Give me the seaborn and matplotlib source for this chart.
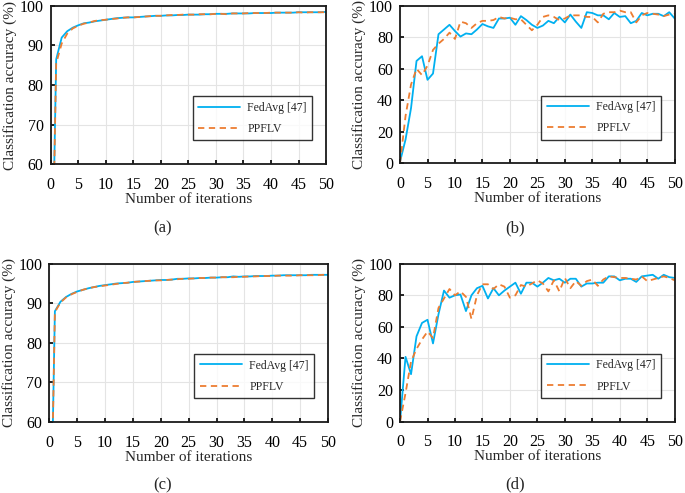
import numpy as np
import pandas as pd
import seaborn as sns
import matplotlib as mpl
import matplotlib.pyplot as plt

iterations = list(range(51))

# (a)
fedavg_a = [10, 86.5, 92.0, 93.6, 94.5, 95.1, 95.6, 95.8, 96.1, 96.3, 96.5, 96.7, 96.9, 97.0, 97.1, 97.1,
            97.2, 97.3, 97.4, 97.5, 97.5, 97.6, 97.6, 97.7, 97.7, 97.8, 97.8, 97.8, 97.9, 97.9, 98.0,
            98.0, 98.0, 98.1, 98.1, 98.1, 98.1, 98.2, 98.2, 98.2, 98.2, 98.3, 98.3, 98.3, 98.3, 98.4,
            98.4, 98.4, 98.4, 98.4, 98.5]
ppflv_a = [10, 85.5, 90.5, 93.0, 94.3, 95.0, 95.5, 95.8, 96.2, 96.4, 96.5, 96.7, 96.8, 97.0, 97.1, 97.1,
           97.2, 97.3, 97.4, 97.5, 97.5, 97.6, 97.7, 97.7, 97.8, 97.8, 97.8, 97.9, 97.9, 97.9, 98.0,
           98.0, 97.9, 98.1, 98.1, 98.1, 98.2, 98.2, 98.2, 98.2, 98.3, 98.3, 98.3, 98.3, 98.3, 98.4,
           98.3, 98.4, 98.4, 98.4, 98.4]

# (b)
fedavg_b = [1, 15, 35, 65, 68, 53, 57, 82, 85, 88, 84, 80.5, 82.5, 82, 85, 88.5, 87, 86, 92, 92,
            92.5, 88, 93.5, 91, 88, 86, 87.5, 90.5, 89, 93, 89.5, 94.5, 90, 86, 96, 95.5, 94, 94,
            91.5, 95.5, 93, 93.5, 89, 90.5, 95.5, 94, 95, 95, 93.5, 96, 92]
ppflv_b = [0, 30, 50, 60, 56, 62, 72, 76, 79, 83, 79, 90, 89, 86, 89, 90.5, 90.5, 91, 93, 92,
           92.5, 91.5, 91.5, 88, 84.5, 88, 93, 94, 93, 91, 92, 94, 94, 94, 93, 93, 89.5, 95, 96,
           96, 97, 96, 96, 89.5, 94, 95.5, 95, 94.5, 93.5, 94.5, 95]

# (c)
fedavg_c = [10, 88.0, 90.4, 91.6, 92.4, 93.0, 93.4, 93.8, 94.1, 94.4, 94.6, 94.8, 95.0, 95.1, 95.2,
            95.4, 95.5, 95.6, 95.7, 95.8, 95.9, 95.9, 96.0, 96.2, 96.2, 96.3, 96.3, 96.4, 96.4, 96.5,
            96.5, 96.6, 96.6, 96.8, 96.7, 96.8, 96.8, 96.9, 96.9, 96.9, 97.0, 97.0, 97.1, 97.1, 97.1,
            97.1, 97.1, 97.2, 97.2, 97.2, 97.2]
ppflv_c = [10, 87.8, 90.2, 91.5, 92.3, 92.9, 93.4, 93.8, 94.1, 94.3, 94.5, 94.7, 94.9, 95.1, 95.2,
           95.4, 95.5, 95.6, 95.7, 95.8, 95.8, 95.9, 96.0, 96.1, 96.2, 96.2, 96.3, 96.4, 96.4, 96.5,
           96.5, 96.6, 96.6, 96.6, 96.7, 96.7, 96.8, 96.8, 96.9, 96.9, 96.9, 97.0, 97.0, 97.0, 97.0,
           97.1, 97.1, 97.1, 97.1, 97.2, 97.2]

# (d)
fedavg_d = [0, 41, 30, 54, 62.5, 64.5, 49.5, 68, 83, 78.5, 80, 80.5, 70, 80, 84.5, 86, 78, 84.5,
            80, 83, 85.5, 88, 81, 88, 88, 85.5, 88, 91, 89.5, 90.5, 88, 90.5, 90.5, 85.5, 87.5,
            87.5, 88, 88, 92, 92, 89.5, 90.5, 90.5, 88.5, 92, 92.5, 93, 90.5, 93, 91.5, 91]
ppflv_d = [0, 18, 38, 46, 52, 57, 53, 72, 78, 84, 80, 82.5, 79, 65, 80, 87, 87, 84, 87, 85.5,
           78.5, 80, 86.5, 85.5, 87.5, 89.5, 87.5, 82.5, 89.5, 82.5, 91, 84.5, 89, 86, 89, 90, 86,
           90, 92, 91.5, 91, 91, 90.5, 90, 92, 89, 90, 91, 92, 91, 89.5]

panels = ['(a)', '(b)', '(c)', '(d)']
fedavg_series = [fedavg_a, fedavg_b, fedavg_c, fedavg_d]
ppflv_series = [ppflv_a, ppflv_b, ppflv_c, ppflv_d]
y_limits = [(60, 100), (0, 100), (60, 100), (0, 100)]
y_steps = [10, 20, 10, 20]
series_names = ['FedAvg [47]', 'PPFLV']

blue = '#00B0F0'
orange = '#ED7D31'


def main():
    sns.set_theme(style='white')
    mpl.rcParams['font.family'] = ['Liberation Serif', 'DejaVu Serif']
    mpl.rcParams['axes.unicode_minus'] = False

    fig = plt.figure(figsize=(6.85, 4.93), dpi=100)
    # [left, bottom, width, height] for a, b, c, d
    boxes = [[0.074, 0.667, 0.402, 0.321],
             [0.584, 0.669, 0.401, 0.319],
             [0.072, 0.144, 0.407, 0.321],
             [0.584, 0.145, 0.401, 0.320]]
    label_pos = [(163, 228), (515, 228), (163, 485), (515, 484)]

    for i in range(4):
        ax = fig.add_axes(boxes[i])
        df = pd.DataFrame({'iter': iterations, 'FedAvg': fedavg_series[i], 'PPFLV': ppflv_series[i]})
        sns.lineplot(data=df, x='iter', y='FedAvg', ax=ax, color=blue, linewidth=1.3,
                     label=series_names[0])
        sns.lineplot(data=df, x='iter', y='PPFLV', ax=ax, color=orange, linewidth=1.3,
                     linestyle=(0, (3.5, 2.5)), label=series_names[1])

        ax.set_xlim(0, 50)
        ax.set_ylim(*y_limits[i])
        ax.set_xticks(range(0, 51, 5))
        ax.set_yticks(range(y_limits[i][0], y_limits[i][1] + 1, y_steps[i]))
        ax.grid(True, color='#e4e4e4', linewidth=0.8)
        ax.set_axisbelow(True)
        ax.tick_params(direction='in', length=3, width=1.2, labelsize=11.5, colors='black',
                       left=True, bottom=True)
        ax.tick_params(axis='x', pad=9)
        ax.tick_params(axis='y', pad=5)
        for spine in ax.spines.values():
            spine.set_color('#1a1a1a')
            spine.set_linewidth(1.3)
        ax.set_xlabel('Number of iterations', fontsize=11, labelpad=0)
        ax.set_ylabel('Classification accuracy (%)', fontsize=11, labelpad=2)

        leg = ax.legend(loc='lower right', bbox_to_anchor=(0.95, 0.15), borderaxespad=0,
                        fontsize=8.5, handlelength=3.6, labelspacing=0.8, frameon=True,
                        fancybox=False, borderpad=0.45, handletextpad=0.6)
        leg.get_frame().set_edgecolor('black')
        leg.get_frame().set_linewidth(1.0)

        fig.text(label_pos[i][0] / 685, 1 - label_pos[i][1] / 493, panels[i],
                 ha='center', va='center', fontsize=12)

    fig.savefig('out.png', dpi=100)


if __name__ == "__main__":
    main()
